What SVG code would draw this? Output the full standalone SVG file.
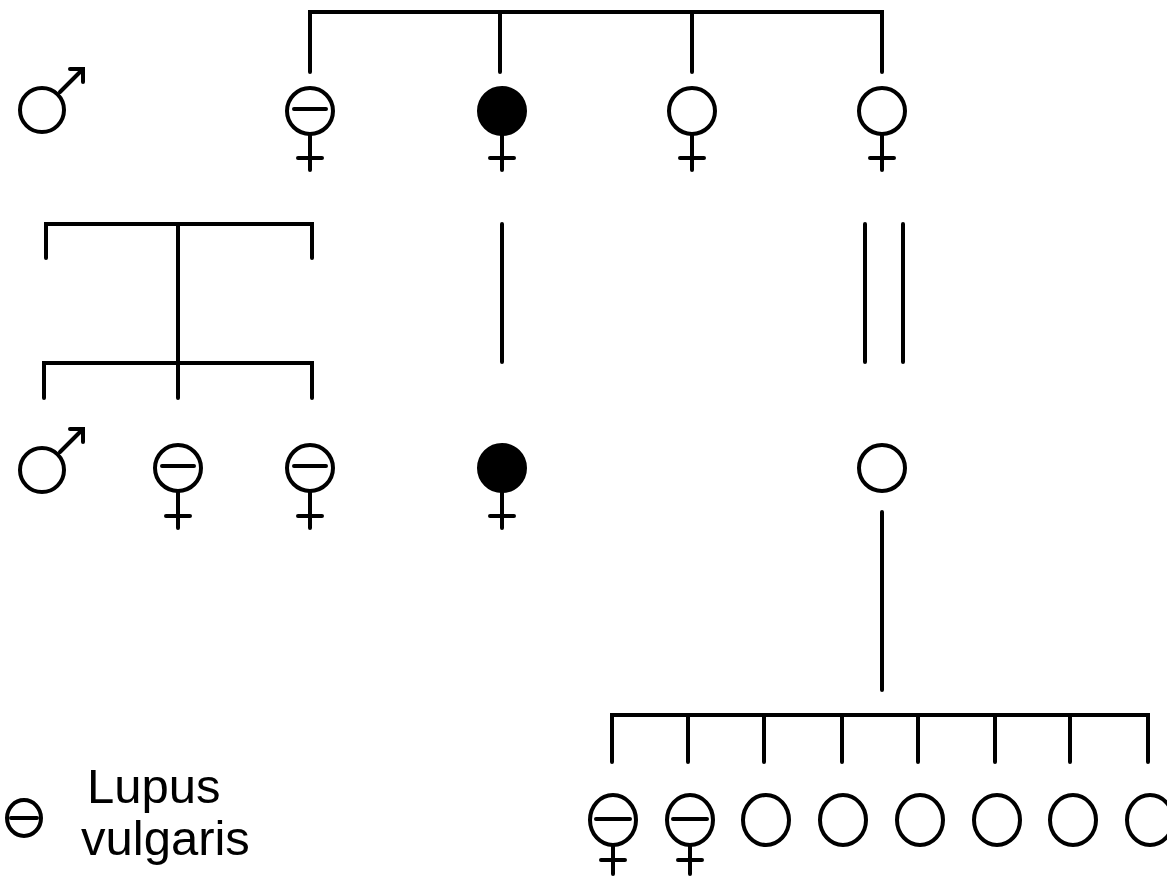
<svg xmlns="http://www.w3.org/2000/svg" width="1167" height="883" viewBox="0 0 1167 883">
<style>
.ln{stroke:#000;stroke-width:4;stroke-linecap:round;fill:none}
.c{stroke:#000;stroke-width:4;fill:#fff}
.f{stroke:#000;stroke-width:4;fill:#000}
.t{font-family:"Liberation Sans",Arial,sans-serif;font-size:49px;fill:#000}
</style>
<rect width="1167" height="883" fill="#fff"/>
<g id="connectors">
<path class="ln" d="M310 72V12H882V72M500 12V72M692 12V72"/>
<path class="ln" d="M46 258V224H312V258M178 224V398M44 398V363H312V398"/>
<path class="ln" d="M502 224V362M865 224V362M903 224V362M882 512V690"/>
<path class="ln" d="M612 762V715H1148V762M688 715V762M764 715V762M842 715V762M918 715V762M995 715V762M1070 715V762"/>
</g>
<g id="g1-male">
<circle class="c" cx="42" cy="110" r="22"/>
<path class="ln" d="M60 92L82 70M70 69H83V82"/>
</g>
<g id="g1-f1">
<circle class="c" cx="310" cy="111" r="23"/>
<path class="ln" d="M294 109H326M310 134V170M298 158H322"/>
</g>
<g id="g1-f2">
<circle class="f" cx="502" cy="111" r="23"/>
<path class="ln" d="M502 134V170M490 158H514"/>
</g>
<g id="g1-f3">
<circle class="c" cx="692" cy="111" r="23"/>
<path class="ln" d="M692 134V170M680 158H704"/>
</g>
<g id="g1-f4">
<circle class="c" cx="882" cy="111" r="23"/>
<path class="ln" d="M882 134V170M870 158H894"/>
</g>
<g id="g2-male">
<circle class="c" cx="42" cy="470" r="22"/>
<path class="ln" d="M60 452L82 430M70 429H83V442"/>
</g>
<g id="g2-f1">
<circle class="c" cx="178" cy="468" r="23"/>
<path class="ln" d="M162 466H194M178 491V528M166 516H190"/>
</g>
<g id="g2-f2">
<circle class="c" cx="310" cy="468" r="23"/>
<path class="ln" d="M294 466H326M310 491V528M298 516H322"/>
</g>
<g id="g2-f3">
<circle class="f" cx="502" cy="468" r="23"/>
<path class="ln" d="M502 491V528M490 516H514"/>
</g>
<g id="g2-c">
<circle class="c" cx="882" cy="468" r="23"/>
</g>
<g id="g3-1">
<ellipse class="c" cx="613" cy="820" rx="23" ry="25"/>
<path class="ln" d="M596 819H630M613 845V874M601 860H625"/>
</g>
<g id="g3-2">
<ellipse class="c" cx="690" cy="820" rx="23" ry="25"/>
<path class="ln" d="M673 819H707M690 845V874M678 860H702"/>
</g>
<g id="g3-3"><ellipse class="c" cx="766" cy="820" rx="23" ry="25"/></g>
<g id="g3-4"><ellipse class="c" cx="843" cy="820" rx="23" ry="25"/></g>
<g id="g3-5"><ellipse class="c" cx="920" cy="820" rx="23" ry="25"/></g>
<g id="g3-6"><ellipse class="c" cx="997" cy="820" rx="23" ry="25"/></g>
<g id="g3-7"><ellipse class="c" cx="1073" cy="820" rx="23" ry="25"/></g>
<g id="g3-8"><ellipse class="c" cx="1150" cy="820" rx="23" ry="25"/></g>
<g id="legend">
<ellipse class="c" cx="24" cy="818" rx="17" ry="18"/>
<path class="ln" d="M11 818H37"/>
<text class="t" x="87" y="803">Lupus</text>
<text class="t" x="81" y="855">vulgaris</text>
</g>
</svg>
